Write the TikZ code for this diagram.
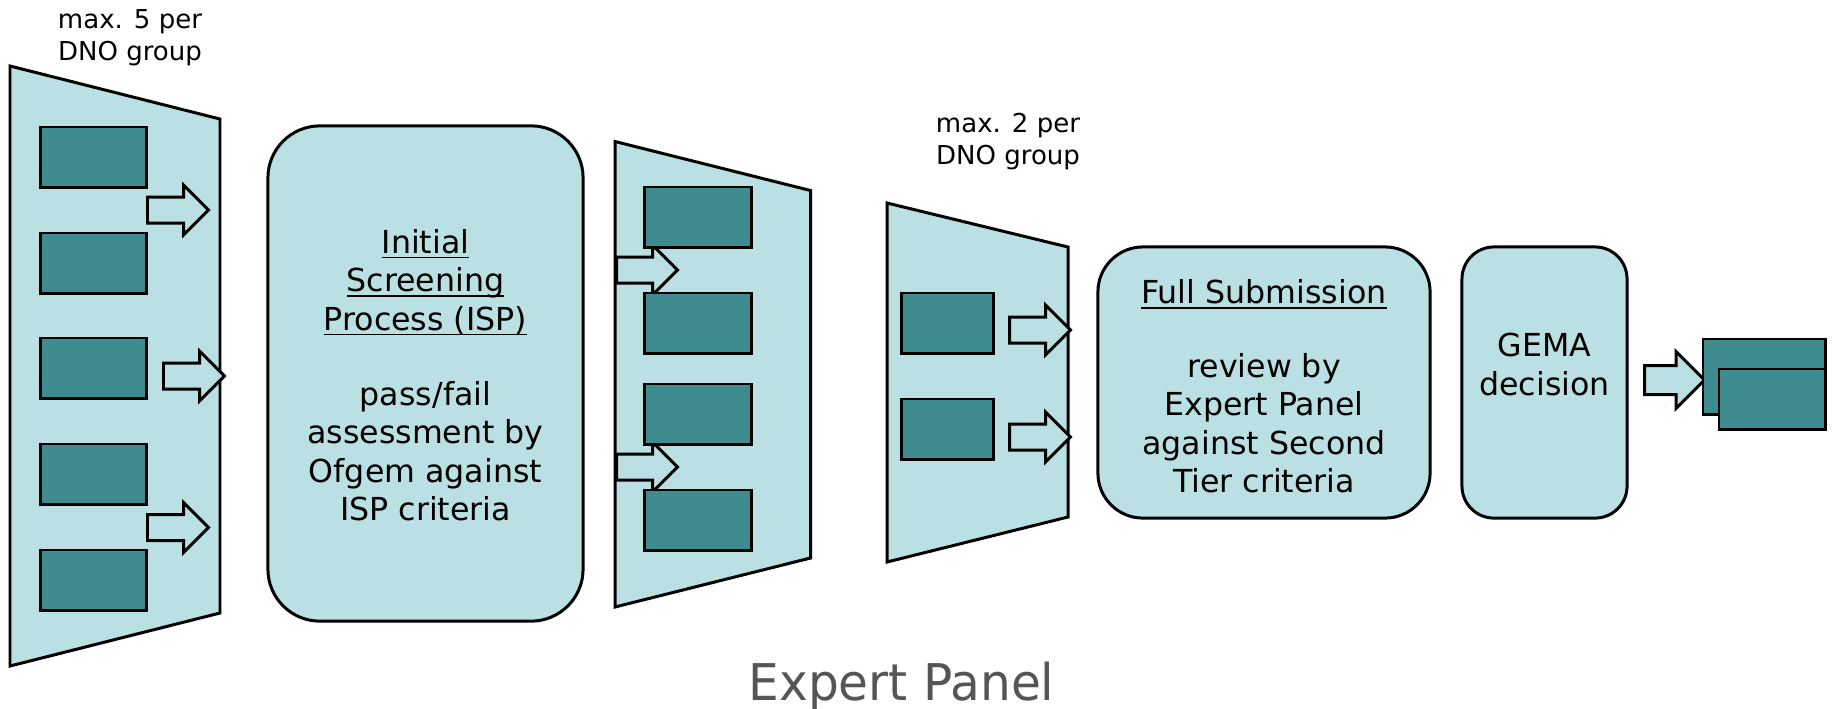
\documentclass[tikz,border=0pt]{standalone}
\usepackage{fontspec}
\setmainfont{DejaVu Sans}
\newfontfamily\panelfont[FakeStretch=0.96]{DejaVu Sans}
\usetikzlibrary{shapes.arrows}
\definecolor{boxfill}{RGB}{186,224,228}
\definecolor{itemfill}{RGB}{62,139,144}
\definecolor{captiongray}{RGB}{85,85,85}
\newcommand{\ulin}[1]{\setbox0\hbox{#1}\rlap{\rule[-1.5pt]{\wd0}{0.5pt}}\box0}

\begin{document}
\begin{tikzpicture}
  [x=0.01cm,y=-0.01cm,
   funnel/.style={draw,fill=boxfill,line width=0.85pt},
   item/.style={draw,fill=itemfill,line width=0.85pt,minimum width=1.05cm,minimum height=0.6cm,inner sep=0pt},
   panel/.style={draw,fill=boxfill,line width=0.85pt,inner sep=0pt},
   blockarrow/.style={single arrow,draw,fill=boxfill,line width=0.85pt,inner sep=0pt,text height=0.23cm,text depth=0pt,single arrow head extend=0.12cm,minimum height=0.61cm,anchor=tail},
   paneltext/.style={align=center,font=\fontsize{9pt}{10.95pt}\selectfont},
   note/.style={align=center,font=\fontsize{7.4pt}{9.1pt}\selectfont}]

  \useasboundingbox (0,0) rectangle (1834,708);

  % funnels
  \draw[funnel] (10,66) -- (220,119) -- (220,613) -- (10,666) -- cycle;
  \draw[funnel] (615,141.5) -- (810.5,190.5) -- (810.5,558) -- (615,607) -- cycle;
  \draw[funnel] (887,203) -- (1068,247) -- (1068,517) -- (887,562) -- cycle;

  % arrows
  \foreach \name/\x/\y in {a1/146/210,a2/162/376,a3/146/527.5,a4/615/270,a5/615/467,a6/1008/330,a7/1008/437}
    \node[blockarrow] (\name) at (\x,\y) {};
  \node[blockarrow,text height=0.26cm,single arrow head extend=0.14cm,minimum height=0.6cm] (a8) at (1643,380) {};

  % proposals
  \foreach \y [count=\i] in {157,263,368,474,580}
    \node[item] (p\i) at (93.5,\y) {};
  \foreach \y [count=\i] in {217,323,414,520}
    \node[item,minimum width=1.06cm] (s\i) at (698,\y) {};
  \foreach \y [count=\i] in {323,429}
    \node[item,minimum width=0.91cm] (e\i) at (947.5,\y) {};
  \node[item,minimum width=1.22cm,minimum height=0.75cm] (g1) at (1764,376.5) {};
  \node[item,minimum width=1.06cm] (g2) at (1772,399) {};

  % panels
  \node[panel,rounded corners=0.52cm,minimum width=3.15cm,minimum height=4.95cm] (isp) at (425.5,373.5) {};
  \node[panel,rounded corners=0.45cm,minimum width=3.32cm,minimum height=2.71cm] (full) at (1264,382.5) {};
  \node[panel,rounded corners=0.32cm,minimum width=1.65cm,minimum height=2.71cm] (gema) at (1544.5,382.5) {};

  \node[paneltext] (isptext) at (425.5,375) {\ulin{Initial}\\ \ulin{Screening}\\ \ulin{Process (ISP)}\\[10.4pt] pass/fail\\ assessment by\\ Ofgem against\\ ISP criteria};
  \node[paneltext] (fulltext) at (1264,386.5) {\ulin{Full Submission}\\[9.9pt] review by\\ Expert Panel\\ against Second\\ Tier criteria};
  \node[paneltext] (gematext) at (1544.5,364.5) {GEMA\\ decision};

  % notes
  \node[note] (max5) at (130,37.5) {max. 5 per\\ DNO group};
  \node[note] (max2) at (1008,142) {max. 2 per\\ DNO group};
  \node[anchor=base,text=captiongray,font=\panelfont\fontsize{14.4pt}{17pt}\selectfont] (caption) at (901.5,700) {Expert Panel};
\end{tikzpicture}
\end{document}
